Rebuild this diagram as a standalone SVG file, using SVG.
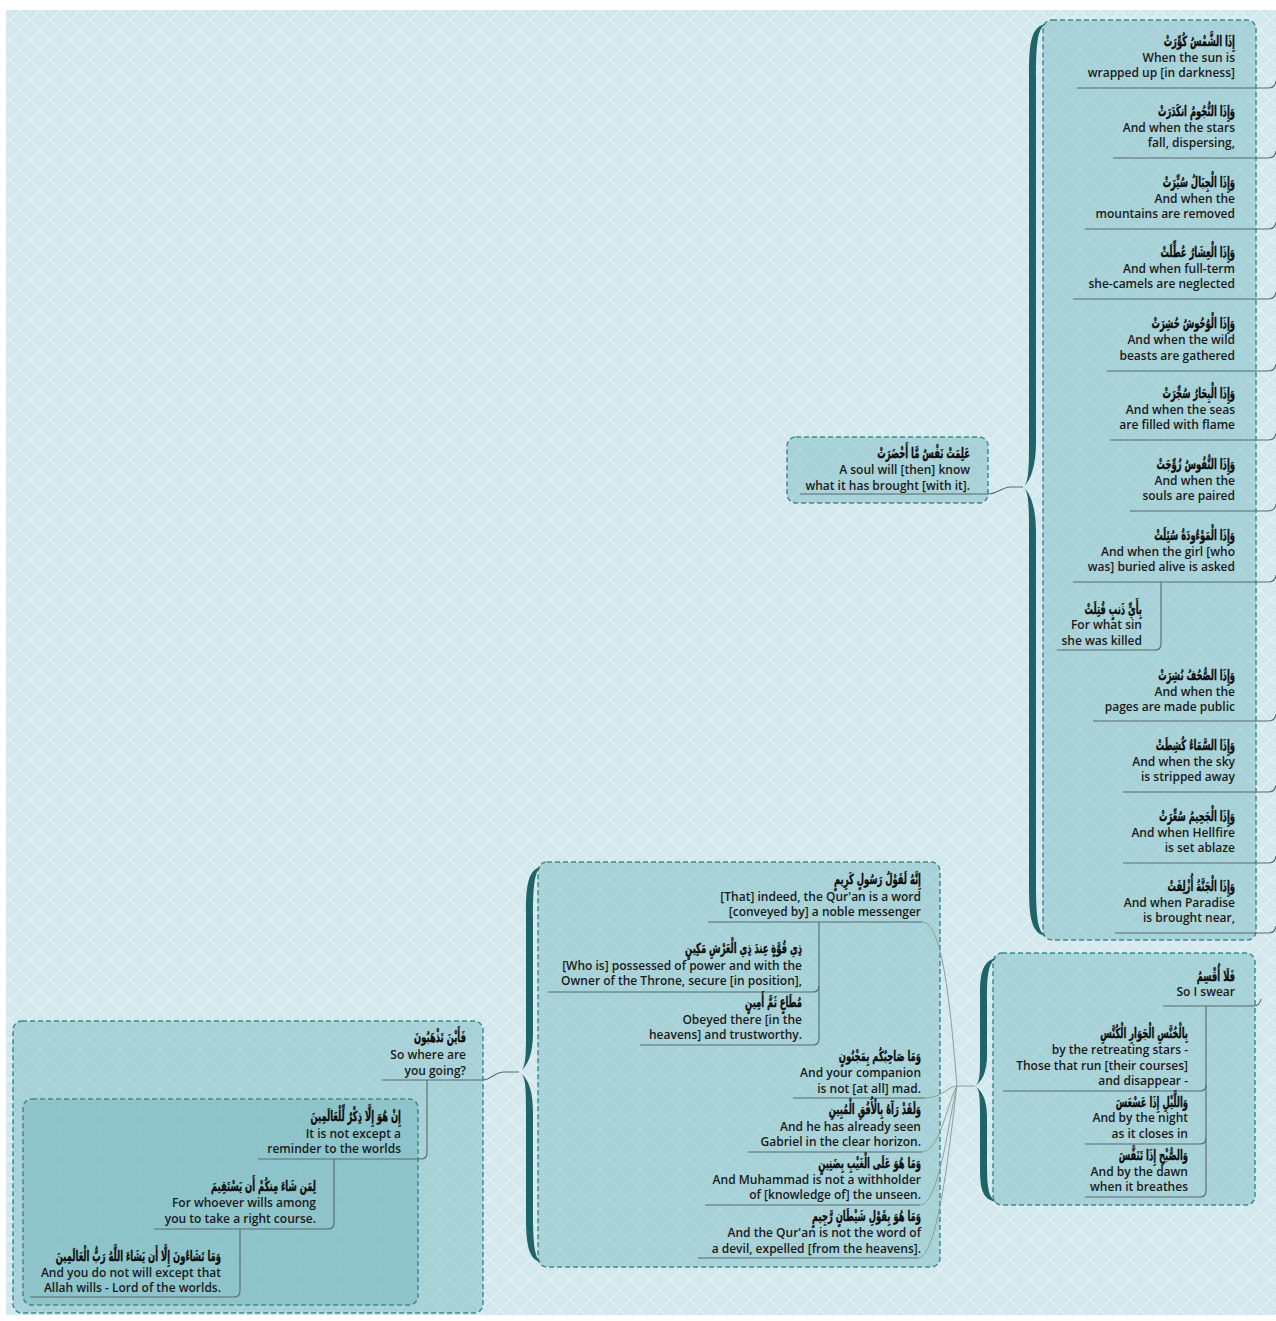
<svg xmlns="http://www.w3.org/2000/svg" width="1276" height="1321" viewBox="0 0 1276 1321">
<defs>
<pattern id="bg" width="20" height="20" patternUnits="userSpaceOnUse">
<rect width="20" height="20" fill="#d4e9ee"/>
<path d="M0 10 L10 0 L20 10 L10 20 Z" fill="none" stroke="#e2f0f3" stroke-width="1.3"/>
<path d="M3 10 L10 3 L17 10 L10 17 Z" fill="none" stroke="#c9dfe4" stroke-width="0.6"/>
</pattern>
<style>
.e{font-family:"Open Sans","DejaVu Sans",sans-serif;font-size:12px;font-weight:600;fill:#1a1a1a;text-anchor:end}
.a{font-family:"DejaVu Sans",sans-serif;font-size:14px;font-weight:bold;fill:#0d0d0d;stroke:#0d0d0d;stroke-width:0.35;text-anchor:end}
.b{fill:rgba(100,176,182,0.4);stroke:#3f8a8b;stroke-width:1.5;stroke-dasharray:5 3}
.u{fill:none;stroke:#566a70;stroke-width:1.1}
.c{fill:none;stroke:#8d9da1;stroke-width:1}
.br{fill:#1f6468}
</style>
</defs>
<rect x="0" y="0" width="1276" height="1321" fill="#ffffff"/>
<rect x="6" y="10" width="1270" height="1305" fill="url(#bg)"/>

<g id="boundaries">
<rect class="b" x="1043" y="20" width="213" height="920" rx="9"/>
<rect class="b" x="787" y="437" width="201" height="66" rx="9"/>
<rect class="b" x="993" y="953" width="262" height="252" rx="9"/>
<rect class="b" x="538" y="862" width="402" height="405" rx="9"/>
<rect class="b" x="13" y="1021" width="470" height="292" rx="9"/>
<rect class="b" x="23" y="1099" width="395" height="206" rx="9"/>
</g>

<g id="braces">
<path class="br" d="M1046,24 C1031,26 1029,44 1029,74 L1029,447 C1029,472 1028,484 1023,487 C1028,490 1029,502 1029,527 L1029,886 C1029,916 1031,934 1046,936 C1037,932 1036,914 1036,881 L1036,532 C1036,507 1030,492 1023,487 C1030,482 1036,467 1036,442 L1036,79 C1036,46 1037,28 1046,24 Z"/>
<path class="br" d="M997,958 C982,960 980,975 980,995 L980,1060 C980,1078 979,1083 975,1086 C979,1089 980,1094 980,1112 L980,1168 C980,1188 982,1200 997,1202 C988,1198 987,1186 987,1163 L987,1117 C987,1098 981,1090 975,1086 C981,1082 987,1074 987,1055 L987,1000 C987,976 988,962 997,958 Z"/>
<path class="br" d="M541,867 C528,869 526,887 526,912 L526,1037 C526,1060 525,1069 519,1072 C525,1075 526,1084 526,1107 L526,1217 C526,1242 528,1260 541,1262 C534,1258 533,1240 533,1212 L533,1112 C533,1088 527,1077 519,1072 C527,1067 533,1056 533,1032 L533,917 C533,890 534,871 541,867 Z"/>
</g>

<g id="connectors">
<path class="u" d="M1077,88 H1268 Q1275,88 1276,81"/>
<path class="u" d="M1113,158 H1268 Q1275,158 1276,151"/>
<path class="u" d="M1085,229 H1268 Q1275,229 1276,222"/>
<path class="u" d="M1073,299 H1268 Q1275,299 1276,292"/>
<path class="u" d="M1107,371 H1268 Q1275,371 1276,364"/>
<path class="u" d="M1110,440 H1268 Q1275,440 1276,433"/>
<path class="u" d="M1130,511 H1268 Q1275,511 1276,504"/>
<path class="u" d="M1073,582 H1268 Q1275,582 1276,575"/>
<path class="u" d="M1161,582 V644 Q1161,650 1155,650 H1057"/>
<path class="u" d="M1093,721 H1268 Q1275,721 1276,714"/>
<path class="u" d="M1123,792 H1268 Q1275,792 1276,785"/>
<path class="u" d="M1123,863 H1268 Q1275,863 1276,856"/>
<path class="u" d="M1115,933 H1268 Q1275,933 1276,926"/>

<path class="u" d="M800,494 H988 C998,494 1001,487 1011,487 H1023"/>

<path class="u" d="M1163,1006 H1253 Q1260,1006 1261,999"/>
<path class="u" d="M1206,1006 V1191 Q1206,1197 1200,1197 H1085"/>
<path class="u" d="M1003,1091 H1200 Q1206,1091 1206,1085"/>
<path class="u" d="M1085,1144 H1200 Q1206,1144 1206,1138"/>

<path class="u" d="M708,922 H922"/>
<path class="u" d="M819,922 V1039 Q819,1045 813,1045 H640"/>
<path class="u" d="M548,992 H813 Q819,992 819,986"/>
<path class="u" d="M793,1098 H925"/>
<path class="u" d="M748,1152 H922"/>
<path class="u" d="M705,1205 H920"/>
<path class="u" d="M698,1258 H918"/>
<path class="c" d="M922,922 C942,922 950,1000 957,1086"/>
<path class="c" d="M925,1098 C942,1098 948,1086 957,1086"/>
<path class="c" d="M922,1152 C940,1152 948,1100 957,1086"/>
<path class="c" d="M920,1205 C940,1205 950,1110 957,1086"/>
<path class="c" d="M918,1258 C940,1258 952,1120 957,1086"/>
<path class="c" d="M957,1086 H975"/>

<path class="u" d="M382,1080 H482 C492,1080 494,1072 504,1072 H519"/>
<path class="u" d="M427,1080 V1153 Q427,1159 421,1159 H258"/>
<path class="u" d="M334,1159 V1223 Q334,1229 328,1229 H154"/>
<path class="u" d="M240,1229 V1291 Q240,1297 234,1297 H30"/>
</g>

<g id="n-sun"><text class="a" transform="translate(1235,46) scale(0.6,1)">إِذَا الشَّمْسُ كُوِّرَتْ</text><text class="e" x="1235" y="62">When the sun is</text><text class="e" x="1235" y="77">wrapped up [in darkness]</text></g>
<g id="n-stars"><text class="a" transform="translate(1235,116) scale(0.6,1)">وَإِذَا النُّجُومُ انكَدَرَتْ</text><text class="e" x="1235" y="132">And when the stars</text><text class="e" x="1235" y="147">fall, dispersing,</text></g>
<g id="n-mountains"><text class="a" transform="translate(1235,187) scale(0.6,1)">وَإِذَا الْجِبَالُ سُيِّرَتْ</text><text class="e" x="1235" y="203">And when the</text><text class="e" x="1235" y="218">mountains are removed</text></g>
<g id="n-camels"><text class="a" transform="translate(1235,257) scale(0.6,1)">وَإِذَا الْعِشَارُ عُطِّلَتْ</text><text class="e" x="1235" y="273">And when full-term</text><text class="e" x="1235" y="288">she-camels are neglected</text></g>
<g id="n-beasts"><text class="a" transform="translate(1235,328) scale(0.6,1)">وَإِذَا الْوُحُوشُ حُشِرَتْ</text><text class="e" x="1235" y="344">And when the wild</text><text class="e" x="1235" y="360">beasts are gathered</text></g>
<g id="n-seas"><text class="a" transform="translate(1235,398) scale(0.6,1)">وَإِذَا الْبِحَارُ سُجِّرَتْ</text><text class="e" x="1235" y="414">And when the seas</text><text class="e" x="1235" y="429">are filled with flame</text></g>
<g id="n-souls"><text class="a" transform="translate(1235,469) scale(0.6,1)">وَإِذَا النُّفُوسُ زُوِّجَتْ</text><text class="e" x="1235" y="485">And when the</text><text class="e" x="1235" y="500">souls are paired</text></g>
<g id="n-girl"><text class="a" transform="translate(1235,540) scale(0.6,1)">وَإِذَا الْمَوْءُودَةُ سُئِلَتْ</text><text class="e" x="1235" y="556">And when the girl [who</text><text class="e" x="1235" y="571">was] buried alive is asked</text></g>
<g id="n-sin"><text class="a" transform="translate(1142,614) scale(0.6,1)">بِأَيِّ ذَنبٍ قُتِلَتْ</text><text class="e" x="1142" y="629">For what sin</text><text class="e" x="1142" y="645">she was killed</text></g>
<g id="n-pages"><text class="a" transform="translate(1235,680) scale(0.6,1)">وَإِذَا الصُّحُفُ نُشِرَتْ</text><text class="e" x="1235" y="696">And when the</text><text class="e" x="1235" y="711">pages are made public</text></g>
<g id="n-sky"><text class="a" transform="translate(1235,750) scale(0.6,1)">وَإِذَا السَّمَاءُ كُشِطَتْ</text><text class="e" x="1235" y="766">And when the sky</text><text class="e" x="1235" y="781">is stripped away</text></g>
<g id="n-hellfire"><text class="a" transform="translate(1235,821) scale(0.6,1)">وَإِذَا الْجَحِيمُ سُعِّرَتْ</text><text class="e" x="1235" y="837">And when Hellfire</text><text class="e" x="1235" y="852">is set ablaze</text></g>
<g id="n-paradise"><text class="a" transform="translate(1235,891) scale(0.6,1)">وَإِذَا الْجَنَّةُ أُزْلِفَتْ</text><text class="e" x="1235" y="907">And when Paradise</text><text class="e" x="1235" y="922">is brought near,</text></g>

<g id="n-soul"><text class="a" transform="translate(970,458) scale(0.6,1)">عَلِمَتْ نَفْسٌ مَّا أَحْضَرَتْ</text><text class="e" x="970" y="474">A soul will [then] know</text><text class="e" x="970" y="490">what it has brought [with it].</text></g>

<g id="n-swear"><text class="a" transform="translate(1235,981) scale(0.6,1)">فَلَا أُقْسِمُ</text><text class="e" x="1235" y="996">So I swear</text></g>
<g id="n-stars2"><text class="a" transform="translate(1188,1038) scale(0.6,1)">بِالْخُنَّسِ الْجَوَارِ الْكُنَّسِ</text><text class="e" x="1188" y="1054">by the retreating stars -</text><text class="e" x="1188" y="1070">Those that run [their courses]</text><text class="e" x="1188" y="1085">and disappear -</text></g>
<g id="n-night"><text class="a" transform="translate(1188,1107) scale(0.6,1)">وَاللَّيْلِ إِذَا عَسْعَسَ</text><text class="e" x="1188" y="1122">And by the night</text><text class="e" x="1188" y="1138">as it closes in</text></g>
<g id="n-dawn"><text class="a" transform="translate(1188,1160) scale(0.6,1)">وَالصُّبْحِ إِذَا تَنَفَّسَ</text><text class="e" x="1188" y="1176">And by the dawn</text><text class="e" x="1188" y="1191">when it breathes</text></g>

<g id="n-word"><text class="a" transform="translate(921,884) scale(0.6,1)">إِنَّهُ لَقَوْلُ رَسُولٍ كَرِيمٍ</text><text class="e" x="921" y="901">[That] indeed, the Qur'an is a word</text><text class="e" x="921" y="916">[conveyed by] a noble messenger</text></g>
<g id="n-power"><text class="a" transform="translate(802,953) scale(0.6,1)">ذِي قُوَّةٍ عِندَ ذِي الْعَرْشِ مَكِينٍ</text><text class="e" x="802" y="970">[Who is] possessed of power and with the</text><text class="e" x="802" y="985">Owner of the Throne, secure [in position],</text></g>
<g id="n-obeyed"><text class="a" transform="translate(802,1007) scale(0.6,1)">مُطَاعٍ ثَمَّ أَمِينٍ</text><text class="e" x="802" y="1024">Obeyed there [in the</text><text class="e" x="802" y="1039">heavens] and trustworthy.</text></g>
<g id="n-mad"><text class="a" transform="translate(921,1061) scale(0.6,1)">وَمَا صَاحِبُكُم بِمَجْنُونٍ</text><text class="e" x="921" y="1077">And your companion</text><text class="e" x="921" y="1093">is not [at all] mad.</text></g>
<g id="n-gabriel"><text class="a" transform="translate(921,1114) scale(0.6,1)">وَلَقَدْ رَآهُ بِالْأُفُقِ الْمُبِينِ</text><text class="e" x="921" y="1131">And he has already seen</text><text class="e" x="921" y="1146">Gabriel in the clear horizon.</text></g>
<g id="n-unseen"><text class="a" transform="translate(921,1168) scale(0.6,1)">وَمَا هُوَ عَلَى الْغَيْبِ بِضَنِينٍ</text><text class="e" x="921" y="1184">And Muhammad is not a withholder</text><text class="e" x="921" y="1199">of [knowledge of] the unseen.</text></g>
<g id="n-devil"><text class="a" transform="translate(921,1221) scale(0.6,1)">وَمَا هُوَ بِقَوْلِ شَيْطَانٍ رَّجِيمٍ</text><text class="e" x="921" y="1237">And the Qur'an is not the word of</text><text class="e" x="921" y="1253">a devil, expelled [from the heavens].</text></g>

<g id="n-going"><text class="a" transform="translate(466,1042) scale(0.6,1)">فَأَيْنَ تَذْهَبُونَ</text><text class="e" x="466" y="1059">So where are</text><text class="e" x="466" y="1075">you going?</text></g>
<g id="n-reminder"><text class="a" transform="translate(401,1121) scale(0.6,1)">إِنْ هُوَ إِلَّا ذِكْرٌ لِّلْعَالَمِينَ</text><text class="e" x="401" y="1138">It is not except a</text><text class="e" x="401" y="1153">reminder to the worlds</text></g>
<g id="n-course"><text class="a" transform="translate(316,1191) scale(0.6,1)">لِمَن شَاءَ مِنكُمْ أَن يَسْتَقِيمَ</text><text class="e" x="316" y="1207">For whoever wills among</text><text class="e" x="316" y="1223">you to take a right course.</text></g>
<g id="n-allah"><text class="a" transform="translate(221,1261) scale(0.6,1)">وَمَا تَشَاءُونَ إِلَّا أَن يَشَاءَ اللَّهُ رَبُّ الْعَالَمِينَ</text><text class="e" x="221" y="1277">And you do not will except that</text><text class="e" x="221" y="1292">Allah wills - Lord of the worlds.</text></g>
</svg>
